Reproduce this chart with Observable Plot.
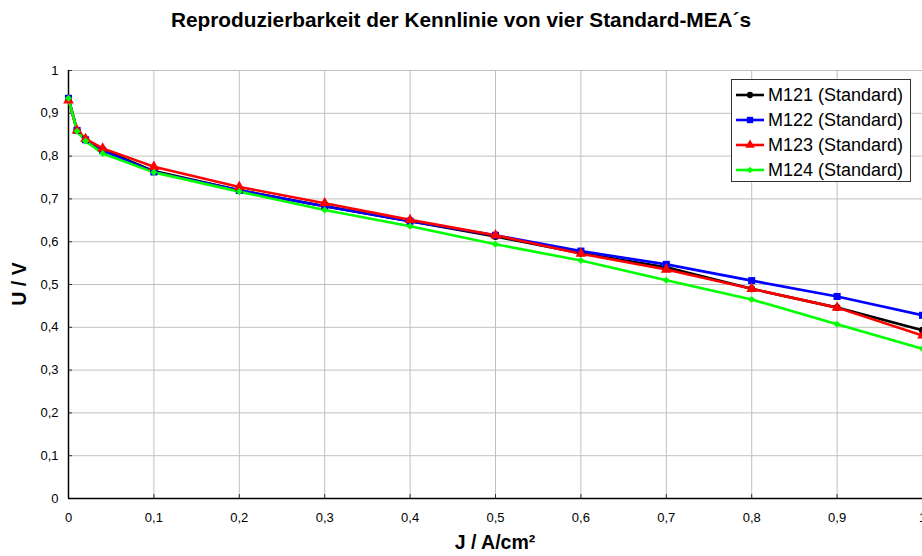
<!DOCTYPE html>
<html>
<head>
<meta charset="utf-8">
<script src="https://cdn.jsdelivr.net/npm/d3@7"></script>
<script src="https://cdn.jsdelivr.net/npm/@observablehq/plot@0.6"></script>
<style>
  body { margin: 0; background: #fff; font-family: "Liberation Sans", Arial, sans-serif; }
  #wrap { position: relative; width: 922px; height: 556px; overflow: hidden; }
  #wrap > svg { position: absolute; left: 0; top: 0; }
  .title { position: absolute; top: 8px; left: 0; width: 922px; text-align: center; font-weight: bold; font-size: 20.8px; line-height: 24px; color: #000; white-space: nowrap; }
  .xlab { position: absolute; top: 531px; left: 50px; width: 890px; text-align: center; font-weight: bold; font-size: 19.5px; line-height: 22px; }
  .ylab { position: absolute; left: 19px; top: 284px; transform: translate(-50%, -50%) rotate(-90deg); font-weight: bold; font-size: 19.5px; line-height: 22px; white-space: nowrap; }
  .legend { position: absolute; left: 731px; top: 79px; width: 180px; height: 103px; border: 1px solid #333; background: #fff; box-sizing: border-box; padding-top: 2.5px; }
  .legend .row { display: flex; align-items: center; height: 25px; font-size: 18px; line-height: 20px; white-space: nowrap; }
  .legend .row svg { display: block; margin-left: 4px; margin-right: 4px; }
</style>
</head>
<body>
<div id="wrap">
  <div class="title">Reproduzierbarkeit der Kennlinie von vier Standard-MEA´s</div>
  <div class="xlab">J / A/cm²</div>
  <div class="ylab">U / V</div>
</div>
<script>
const J = [0, 0.01, 0.02, 0.04, 0.1, 0.2, 0.3, 0.4, 0.5, 0.6, 0.7, 0.8, 0.9, 1.0];
const M121 = [0.935, 0.860, 0.838, 0.815, 0.765, 0.720, 0.683, 0.648, 0.612, 0.573, 0.540, 0.490, 0.446, 0.393];
const M122 = [0.935, 0.860, 0.838, 0.813, 0.763, 0.720, 0.683, 0.648, 0.615, 0.578, 0.547, 0.509, 0.472, 0.428];
const M123 = [0.930, 0.860, 0.840, 0.818, 0.775, 0.728, 0.690, 0.651, 0.615, 0.572, 0.535, 0.490, 0.446, 0.381];
const M124 = [0.935, 0.858, 0.835, 0.806, 0.762, 0.717, 0.674, 0.636, 0.594, 0.556, 0.510, 0.465, 0.407, 0.350];

const seriesNames = ["M121 (Standard)", "M122 (Standard)", "M123 (Standard)", "M124 (Standard)"];
const seriesValues = [M121, M122, M123, M124];
const seriesColors = ["#000000", "#0000ff", "#ff0000", "#00ff00"];
const seriesSymbols = ["circle", "square", "triangle", "diamond2"];
const seriesR = [3.5, 4, 4, 3.2];

const xTicks = [0, 0.1, 0.2, 0.3, 0.4, 0.5, 0.6, 0.7, 0.8, 0.9, 1];
const yTicks = [0, 0.1, 0.2, 0.3, 0.4, 0.5, 0.6, 0.7, 0.8, 0.9, 1];
const fmt = d => String(Math.round(d * 10) / 10).replace(".", ",");

const rows = [];
seriesNames.forEach((name, i) => {
  J.forEach((j, k) => rows.push({series: name, J: j, U: seriesValues[i][k]}));
});

const lineMarks = [];
const dotMarks = [];
seriesNames.forEach((name, i) => {
  const data = rows.filter(r => r.series === name);
  lineMarks.push(Plot.line(data, {x: "J", y: "U", stroke: seriesColors[i], strokeWidth: 2.6}));
  dotMarks.push(Plot.dot(data, {x: "J", y: "U", fill: seriesColors[i], stroke: "none", symbol: seriesSymbols[i], r: seriesR[i]}));
});

const chart = Plot.plot({
  width: 922,
  height: 556,
  marginTop: 70,
  marginBottom: 58,
  marginLeft: 68,
  marginRight: 0,
  style: {fontFamily: "Liberation Sans, Arial, sans-serif", fontSize: "13px", color: "#000", background: "transparent", overflow: "visible"},
  x: {domain: [0, 1]},
  y: {domain: [0, 1]},
  marks: [
    Plot.gridX(xTicks, {stroke: "#c0c0c0", strokeOpacity: 1, strokeWidth: 1}),
    Plot.gridY(yTicks, {stroke: "#c0c0c0", strokeOpacity: 1, strokeWidth: 1}),
    Plot.axisX(xTicks, {tickFormat: fmt, tickSize: -4, tickPadding: 18, label: null, fontSize: 13, stroke: "#333"}),
    Plot.axisY(yTicks, {tickFormat: fmt, tickSize: -4, tickPadding: 14, label: null, fontSize: 13, stroke: "#333"}),
    Plot.ruleY([0], {stroke: "#000", strokeWidth: 1.5}),
    Plot.ruleX([0], {stroke: "#000", strokeWidth: 1.5}),
    ...lineMarks,
    ...dotMarks
  ]
});
document.getElementById("wrap").prepend(chart);

// legend
const legend = document.createElement("div");
legend.className = "legend";
const symMap = {circle: d3.symbolCircle, square: d3.symbolSquare, triangle: d3.symbolTriangle, diamond2: d3.symbolDiamond2};
seriesNames.forEach((name, i) => {
  const row = document.createElement("div");
  row.className = "row";
  const sw = d3.create("svg").attr("width", 28).attr("height", 12);
  sw.append("line").attr("x1", 0).attr("x2", 28).attr("y1", 6).attr("y2", 6).attr("stroke", seriesColors[i]).attr("stroke-width", 2.6);
  sw.append("path").attr("transform", "translate(14,6)").attr("d", d3.symbol(symMap[seriesSymbols[i]], Math.PI * seriesR[i] * seriesR[i] * 0.8)).attr("fill", seriesColors[i]);
  row.appendChild(sw.node());
  const t = document.createElement("span");
  t.textContent = name;
  row.appendChild(t);
  legend.appendChild(row);
});
document.getElementById("wrap").appendChild(legend);
</script>
</body>
</html>
